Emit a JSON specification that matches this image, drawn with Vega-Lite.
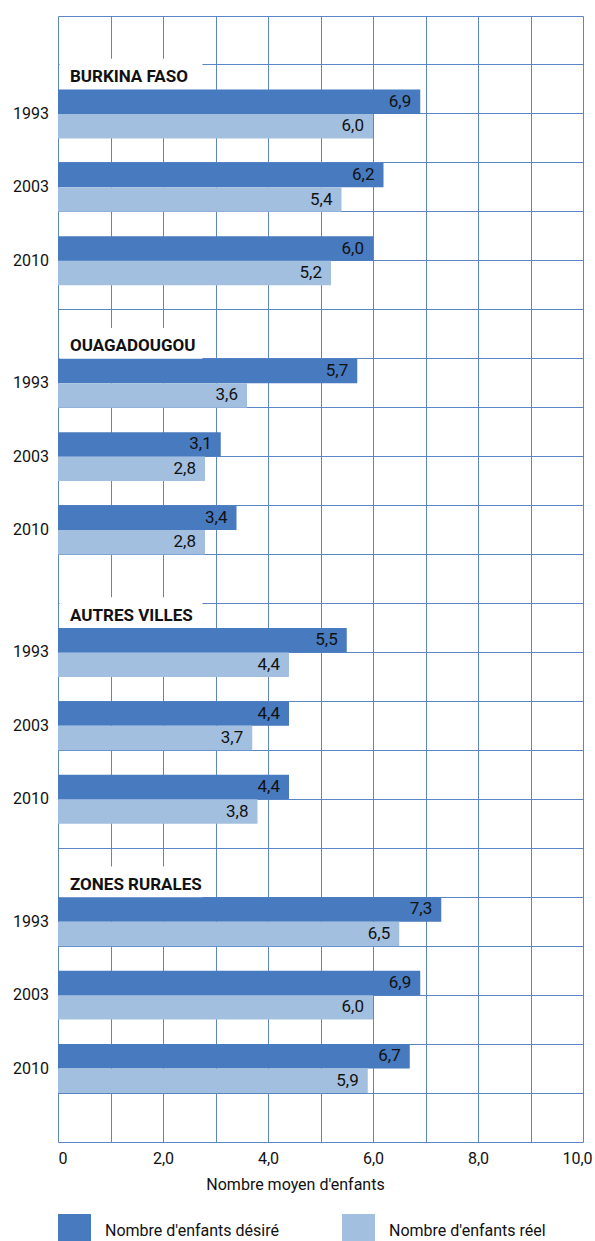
{
  "$schema": "https://vega.github.io/schema/vega-lite/v6.json",
  "width": 525,
  "height": 1126,
  "autosize": {"type": "none"},
  "padding": {"left": 58, "top": 16, "right": 12, "bottom": 99},
  "config": {
    "view": {"stroke": null},
    "font": "Roboto, sans-serif"
  },
  "datasets": {
    "bars": [
      {"code": "BF", "year": "1993", "type": "Nombre d'enfants désiré", "value": 6.9},
      {"code": "BF", "year": "1993", "type": "Nombre d'enfants réel", "value": 6.0},
      {"code": "BF", "year": "2003", "type": "Nombre d'enfants désiré", "value": 6.2},
      {"code": "BF", "year": "2003", "type": "Nombre d'enfants réel", "value": 5.4},
      {"code": "BF", "year": "2010", "type": "Nombre d'enfants désiré", "value": 6.0},
      {"code": "BF", "year": "2010", "type": "Nombre d'enfants réel", "value": 5.2},
      {"code": "OUA", "year": "1993", "type": "Nombre d'enfants désiré", "value": 5.7},
      {"code": "OUA", "year": "1993", "type": "Nombre d'enfants réel", "value": 3.6},
      {"code": "OUA", "year": "2003", "type": "Nombre d'enfants désiré", "value": 3.1},
      {"code": "OUA", "year": "2003", "type": "Nombre d'enfants réel", "value": 2.8},
      {"code": "OUA", "year": "2010", "type": "Nombre d'enfants désiré", "value": 3.4},
      {"code": "OUA", "year": "2010", "type": "Nombre d'enfants réel", "value": 2.8},
      {"code": "AV", "year": "1993", "type": "Nombre d'enfants désiré", "value": 5.5},
      {"code": "AV", "year": "1993", "type": "Nombre d'enfants réel", "value": 4.4},
      {"code": "AV", "year": "2003", "type": "Nombre d'enfants désiré", "value": 4.4},
      {"code": "AV", "year": "2003", "type": "Nombre d'enfants réel", "value": 3.7},
      {"code": "AV", "year": "2010", "type": "Nombre d'enfants désiré", "value": 4.4},
      {"code": "AV", "year": "2010", "type": "Nombre d'enfants réel", "value": 3.8},
      {"code": "ZR", "year": "1993", "type": "Nombre d'enfants désiré", "value": 7.3},
      {"code": "ZR", "year": "1993", "type": "Nombre d'enfants réel", "value": 6.5},
      {"code": "ZR", "year": "2003", "type": "Nombre d'enfants désiré", "value": 6.9},
      {"code": "ZR", "year": "2003", "type": "Nombre d'enfants réel", "value": 6.0},
      {"code": "ZR", "year": "2010", "type": "Nombre d'enfants désiré", "value": 6.7},
      {"code": "ZR", "year": "2010", "type": "Nombre d'enfants réel", "value": 5.9}
    ],
    "zones": [
      {"code": "BF", "zone": "BURKINA FASO"},
      {"code": "OUA", "zone": "OUAGADOUGOU"},
      {"code": "AV", "zone": "AUTRES VILLES"},
      {"code": "ZR", "zone": "ZONES RURALES"}
    ]
  },
  "encoding": {
    "y": {
      "field": "key",
      "type": "nominal",
      "sort": null,
      "scale": {
        "type": "band",
        "paddingInner": 0,
        "paddingOuter": 0,
        "domain": [
          "BF-s0", "BF-s1", "BF-h", "BF-1993-d", "BF-1993-r", "BF-g1", "BF-2003-d", "BF-2003-r", "BF-g2", "BF-2010-d", "BF-2010-r",
          "OUA-s0", "OUA-s1", "OUA-h", "OUA-1993-d", "OUA-1993-r", "OUA-g1", "OUA-2003-d", "OUA-2003-r", "OUA-g2", "OUA-2010-d", "OUA-2010-r",
          "AV-s0", "AV-s1", "AV-h", "AV-1993-d", "AV-1993-r", "AV-g1", "AV-2003-d", "AV-2003-r", "AV-g2", "AV-2010-d", "AV-2010-r",
          "ZR-s0", "ZR-s1", "ZR-h", "ZR-1993-d", "ZR-1993-r", "ZR-g1", "ZR-2003-d", "ZR-2003-r", "ZR-g2", "ZR-2010-d", "ZR-2010-r",
          "end1", "end2"
        ]
      },
      "axis": {
        "values": [
          "BF-s0", "BF-h", "BF-1993-r", "BF-2003-d", "BF-g2", "BF-2010-r",
          "OUA-s1", "OUA-1993-d", "OUA-g1", "OUA-2003-r", "OUA-2010-d",
          "AV-s0", "AV-h", "AV-1993-r", "AV-2003-d", "AV-g2", "AV-2010-r",
          "ZR-s1", "ZR-1993-d", "ZR-g1", "ZR-2003-r", "ZR-2010-d",
          "end1"
        ],
        "bandPosition": 0,
        "grid": true,
        "gridColor": "#5a86c6",
        "gridWidth": 1,
        "gridOpacity": 1,
        "labels": false,
        "ticks": false,
        "domain": false,
        "title": null
      }
    }
  },
  "layer": [
    {
      "data": {"name": "zones"},
      "transform": [{"calculate": "datum.code + '-h'", "as": "key"}],
      "mark": {"type": "bar", "color": "white", "height": {"band": 1.5}},
      "encoding": {
        "x": {"datum": 0.03, "type": "quantitative"},
        "x2": {"datum": 2.75}
      }
    },
    {
      "data": {"name": "bars"},
      "transform": [
        {"calculate": "datum.code + '-' + datum.year + '-' + (indexof(datum.type, 'désiré') >= 0 ? 'd' : 'r')", "as": "key"}
      ],
      "mark": {"type": "bar"},
      "encoding": {
        "x": {
          "field": "value",
          "type": "quantitative",
          "scale": {"domain": [0, 10], "nice": false},
          "axis": {
            "values": [0, 1, 2, 3, 4, 5, 6, 7, 8, 9, 10],
            "labelExpr": "datum.value == 0 ? '0' : (datum.value % 2 == 0 ? replace(format(datum.value, '.1f'), '.', ',') : '')",
            "labelFlush": false,
            "labelAlign": {"condition": {"test": "datum.value == 0", "value": "left"}, "value": "center"},
            "labelOffset": {"condition": {"test": "datum.value == 10", "value": -6}, "value": 0},
            "labelFontSize": 16,
            "labelColor": "#111111",
            "labelPadding": 8,
            "ticks": false,
            "grid": true,
            "gridColor": "#5a86c6",
            "gridWidth": 1,
            "gridOpacity": 1,
            "domain": true,
            "domainColor": "#5a86c6",
            "domainWidth": 1,
            "title": "Nombre moyen d'enfants",
            "titleFontSize": 16,
            "titleFontWeight": "normal",
            "titleColor": "#111111",
            "titleX": 237,
            "titlePadding": 10
          }
        },
        "color": {
          "field": "type",
          "type": "nominal",
          "scale": {
            "domain": ["Nombre d'enfants désiré", "Nombre d'enfants réel"],
            "range": ["#477abe", "#a3bfdf"]
          },
          "legend": {
            "title": null,
            "orient": "bottom",
            "direction": "horizontal",
            "symbolType": "square",
            "symbolSize": 1089,
            "symbolStrokeWidth": 0,
            "labelFontSize": 16,
            "labelColor": "#111111",
            "labelOffset": 14,
            "labelLimit": 300,
            "columnPadding": 63,
            "offset": 22
          }
        }
      }
    },
    {
      "data": {"name": "bars"},
      "transform": [
        {"calculate": "datum.code + '-' + datum.year + '-' + (indexof(datum.type, 'désiré') >= 0 ? 'd' : 'r')", "as": "key"},
        {"calculate": "replace(format(datum.value, '.1f'), '.', ',')", "as": "label"}
      ],
      "mark": {"type": "text", "align": "right", "baseline": "middle", "dx": -9, "fontSize": 17, "color": "#111111"},
      "encoding": {
        "x": {"field": "value", "type": "quantitative"},
        "text": {"field": "label"}
      }
    },
    {
      "data": {"name": "zones"},
      "transform": [{"calculate": "datum.code + '-h'", "as": "key"}],
      "mark": {"type": "text", "align": "left", "baseline": "middle", "dx": 12, "fontSize": 17, "fontWeight": "bold", "color": "#111111"},
      "encoding": {
        "x": {"datum": 0, "type": "quantitative"},
        "text": {"field": "zone"}
      }
    },
    {
      "data": {"name": "bars"},
      "transform": [
        {"filter": "indexof(datum.type, 'réel') >= 0"},
        {"calculate": "datum.code + '-' + datum.year + '-r'", "as": "key"}
      ],
      "mark": {"type": "text", "align": "right", "baseline": "middle", "dx": -9, "fontSize": 16, "color": "#111111"},
      "encoding": {
        "x": {"datum": 0, "type": "quantitative"},
        "y": {"field": "key", "type": "nominal", "bandPosition": 0},
        "text": {"field": "year"}
      }
    }
  ]
}
